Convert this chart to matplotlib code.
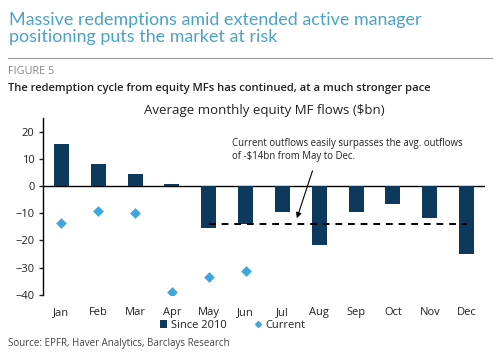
import matplotlib
matplotlib.use("Agg")
import matplotlib.pyplot as plt
from matplotlib.lines import Line2D
from matplotlib.patches import Patch

months = ["Jan", "Feb", "Mar", "Apr", "May", "Jun", "Jul", "Aug", "Sep", "Oct", "Nov", "Dec"]
since_2010 = [15.6, 8.0, 4.4, 0.6, -15.6, -13.9, -9.4, -21.6, -9.6, -6.6, -11.8, -25.0]
current = [-13.7, -9.1, -10.0, -39.0, -33.5, -31.3]
avg_outflow = -14
avg_range = ["May", "Dec"]
yticks = [-40, -30, -20, -10, 0, 10, 20]

plt.rcParams['font.family'] = ['Open Sans', 'DejaVu Sans']

navy = "#0D3A5C"
light = "#3DA8E0"
teal = "#4AA3C4"

fig = plt.figure(figsize=(5, 3.6), dpi=100)
ax = fig.add_axes([0.086, 0.181, 0.884, 0.491])

x = list(range(len(months)))
ax.bar(x, since_2010, width=0.41, color=navy, zorder=2)
ax.scatter(x[:len(current)], current, marker="D", s=30, color=light, zorder=3, linewidths=0)

i0, i1 = months.index(avg_range[0]), months.index(avg_range[1])
ax.plot([i0, i1], [avg_outflow, avg_outflow], color="black", lw=1.4, ls=(0, (3.5, 3)), zorder=4)
ax.axhline(0, color="black", lw=1.0, zorder=1)

ax.set_xlim(-0.5, 11.5)
ax.set_ylim(-40, 25)
ax.set_yticks(yticks)
ax.set_xticks(x)
ax.set_xticklabels(months)
ax.tick_params(axis="x", length=0, pad=9, labelsize=8, colors="#222222")
ax.tick_params(axis="y", length=3, width=1, pad=3, labelsize=8, colors="#222222")
for s in ["top", "right", "bottom"]:
    ax.spines[s].set_visible(False)
ax.spines["left"].set_color("black")
ax.spines["left"].set_linewidth(1.0)

ax.set_title("Average monthly equity MF flows ($bn)", fontsize=9.5, color="#222222", pad=3)

ax.annotate("", xy=(6.37, -12.8), xytext=(6.84, 6.6),
            arrowprops=dict(arrowstyle="-|>", color="black", lw=0.8, mutation_scale=8))
ax.text(4.64, 13.2, "Current outflows easily surpasses the avg. outflows\nof -$14bn from May to Dec.",
        fontsize=6.9, color="#222222", va="center", ha="left", linespacing=1.3)

handles = [Patch(facecolor=navy, edgecolor="none"),
           Line2D([], [], marker="D", ls="none", color=light, markersize=3)]
fig.legend(handles, ["Since 2010", "Current"], loc="center", bbox_to_anchor=(0.465, 0.097),
           ncol=2, frameon=False, fontsize=8, handlelength=0.7, handletextpad=0.3,
           columnspacing=2.5, labelcolor="#222222")

fig.text(0.018, 0.968, "Massive redemptions amid extended active manager\npositioning puts the market at risk",
         fontsize=12.9, color=teal, va="top", ha="left", linespacing=1.15, family=["Lato", "DejaVu Sans"])
fig.add_artist(Line2D([0.016, 0.984], [0.839, 0.839], color="#999999", lw=0.8))
fig.text(0.016, 0.8, "FIGURE 5", fontsize=7.8, color="#888888", va="center", ha="left")
fig.text(0.016, 0.755, "The redemption cycle from equity MFs has continued, at a much stronger pace",
         fontsize=8.1, color="#222222", va="center", ha="left", fontweight="semibold")
fig.text(0.016, 0.047, "Source: EPFR, Haver Analytics, Barclays Research", fontsize=7, color="#444444",
         va="center", ha="left")

fig.savefig("out.png", dpi=100, facecolor="white")
